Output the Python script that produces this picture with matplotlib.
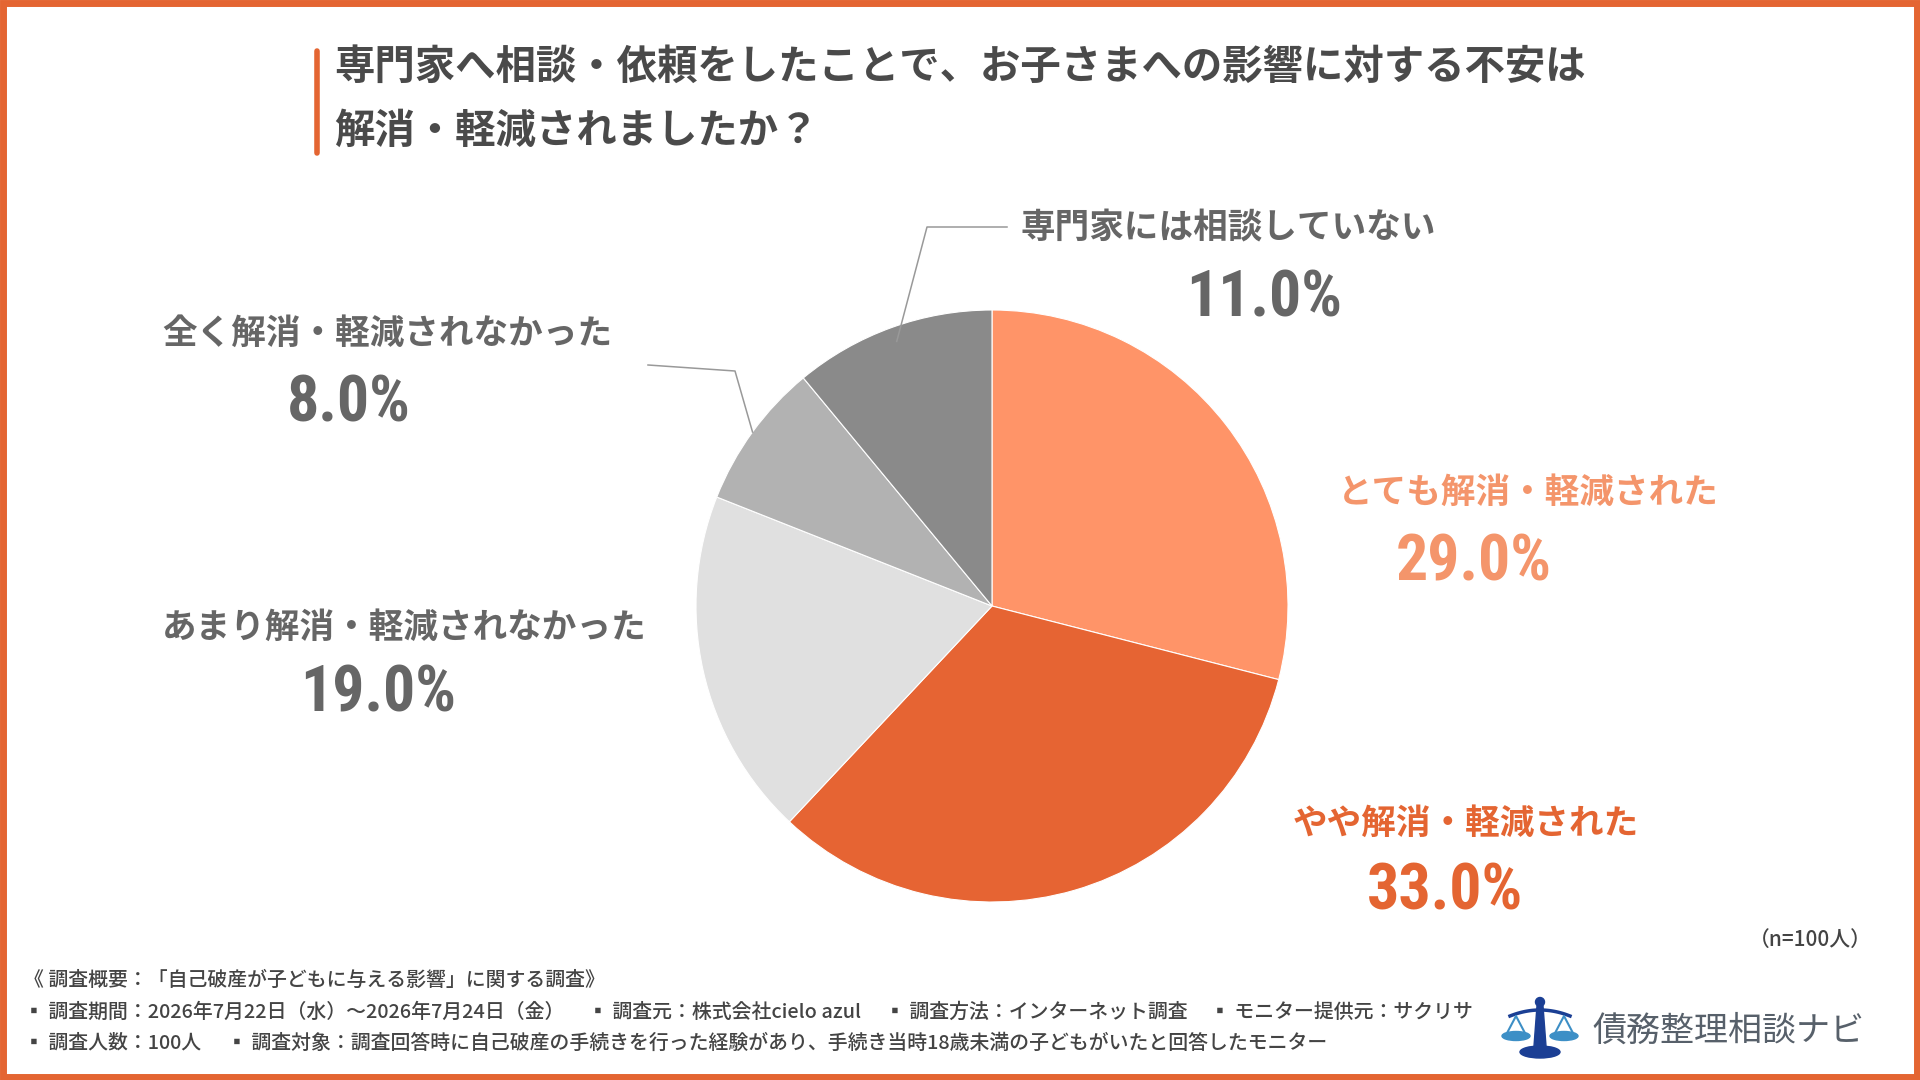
import matplotlib
matplotlib.use("Agg")
import matplotlib.pyplot as plt
from matplotlib.patches import Rectangle, Polygon, Ellipse, Circle
import numpy as np

plt.rcParams['font.family'] = ['Noto Sans CJK JP', 'DejaVu Sans']

# ---- data ----
title_lines = ["専門家へ相談・依頼をしたことで、お子さまへの影響に対する不安は",
               "解消・軽減されましたか？"]
categories = ["とても解消・軽減された", "やや解消・軽減された", "あまり解消・軽減されなかった",
              "全く解消・軽減されなかった", "専門家には相談していない"]
values = [29.0, 33.0, 19.0, 8.0, 11.0]
colors = ["#FF9468", "#E66433", "#E0E0E0", "#B2B2B2", "#8A8A8A"]
label_colors = ["#F4956B", "#E46532", "#666666", "#666666", "#666666"]
sample_note = "（n=100人）"
footer_head = "《 調査概要：「自己破産が子どもに与える影響」に関する調査》"
footer_row1 = ["▪ 調査期間：2026年7月22日（水）～2026年7月24日（金）",
               "▪ 調査元：株式会社cielo azul",
               "▪ 調査方法：インターネット調査",
               "▪ モニター提供元：サクリサ"]
footer_row2 = ["▪ 調査人数：100人",
               "▪ 調査対象：調査回答時に自己破産の手続きを行った経験があり、手続き当時18歳未満の子どもがいたと回答したモニター"]
brand = "債務整理相談ナビ"

# ---- layout (pixels) ----
W, H = 1920, 1080
ORANGE = "#E46532"
cx, cy, r = 992, 606, 296
# label centre, percentage centre, leader (bend points) for each category
label_pos = [(1528, 492), (1466, 823), (404, 627), (387, 333), (1228, 228)]
pct_pos = [(1474, 563), (1445, 892), (378, 694), (349, 404), (1264, 299)]
leaders = {3: [(735, 371), (648, 365)], 4: [(927, 227), (1007, 227)]}
leader_depth = {3: 1.0, 4: 0.95}
pct_font = ['Liberation Sans Narrow', 'Roboto Condensed', 'DejaVu Sans']
foot_kw = dict(fontsize=14.3, fontweight="medium", color="#444444", ha="left", va="center")

fig = plt.figure(figsize=(W / 100, H / 100), dpi=100)
fig.patch.set_facecolor("white")

# pie in its own square axes
pie_ax = fig.add_axes([(cx - r) / W, 1 - (cy + r) / H, 2 * r / W, 2 * r / H])
pie_ax.pie(values, colors=colors, startangle=90, counterclock=False, radius=1,
           wedgeprops=dict(edgecolor="white", linewidth=0.8))
pie_ax.set_xlim(-1, 1)
pie_ax.set_ylim(-1, 1)
pie_ax.axis("off")

# overlay axes in pixel coordinates
ax = fig.add_axes([0, 0, 1, 1], zorder=5)
ax.set_xlim(0, W)
ax.set_ylim(H, 0)
ax.axis("off")

# frame
ax.add_patch(Rectangle((3, 3), W - 6, H - 6, fill=False, edgecolor=ORANGE, linewidth=5))

# title
ax.plot([317, 317], [51, 153], color=ORANGE, linewidth=4, solid_capstyle="round")
ax.text(334, 67, title_lines[0], fontsize=29.1, fontweight="bold", color="#4A4A4A",
        ha="left", va="center")
ax.text(334, 131, title_lines[1], fontsize=29.1, fontweight="bold", color="#4A4A4A",
        ha="left", va="center")

# labels
cum = np.cumsum([0] + values[:-1])
for i, cat in enumerate(categories):
    lx, ly = label_pos[i]
    px, py = pct_pos[i]
    ax.text(lx, ly, cat, fontsize=24.9, fontweight="bold", color=label_colors[i],
            ha="center", va="center")
    ax.text(px, py, f"{values[i]:.1f}%", fontsize=46, fontweight="bold",
            color=label_colors[i], ha="center", va="center", family=pct_font)
    if i in leaders:
        mid = np.deg2rad(90 - 3.6 * (cum[i] + values[i] / 2))
        sx = cx + r * leader_depth[i] * np.cos(mid)
        sy = cy - r * leader_depth[i] * np.sin(mid)
        pts = [(sx, sy)] + leaders[i]
        ax.plot([p[0] for p in pts], [p[1] for p in pts], color="#999999", linewidth=1.1)

# sample size
ax.text(1872, 940, sample_note, fontsize=15, fontweight="medium", color="#444444",
        ha="right", va="center")

# footer
ax.text(24, 980, footer_head, **foot_kw)
for x, s in zip([24, 588, 885, 1210], footer_row1):
    ax.text(x, 1012, s, **foot_kw)
for x, s in zip([24, 227], footer_row2):
    ax.text(x, 1043, s, **foot_kw)

# logo
lx, ly = 1540, 1030
dark, light = "#1B3F94", "#3D8FC6"
ax.add_patch(Polygon([(lx - 3, ly - 24), (lx + 3, ly - 24), (lx + 6, ly + 16), (lx - 6, ly + 16)],
                     closed=True, color=dark))
ax.add_patch(Circle((lx, ly - 28), 4.5, color=dark))
bx = np.linspace(-30, 30, 40)
ax.plot(lx + bx, ly - 14 - 6 * (1 - (bx / 30) ** 2), color=dark, linewidth=2.5)
for sgn in (-1, 1):
    px = lx + sgn * 24
    ax.plot([px - 10, px, px + 10], [ly + 5, ly - 14, ly + 5], color=light, linewidth=1.5)
    ax.add_patch(Ellipse((px, ly + 6), 28, 9, color=light))
ax.add_patch(Ellipse((lx, ly + 22), 40, 12, color=dark))
ax.text(1592, 1031, brand, fontsize=24.5, color="#57606A", ha="left", va="center")

fig.savefig("out.png", dpi=100, facecolor="white")
